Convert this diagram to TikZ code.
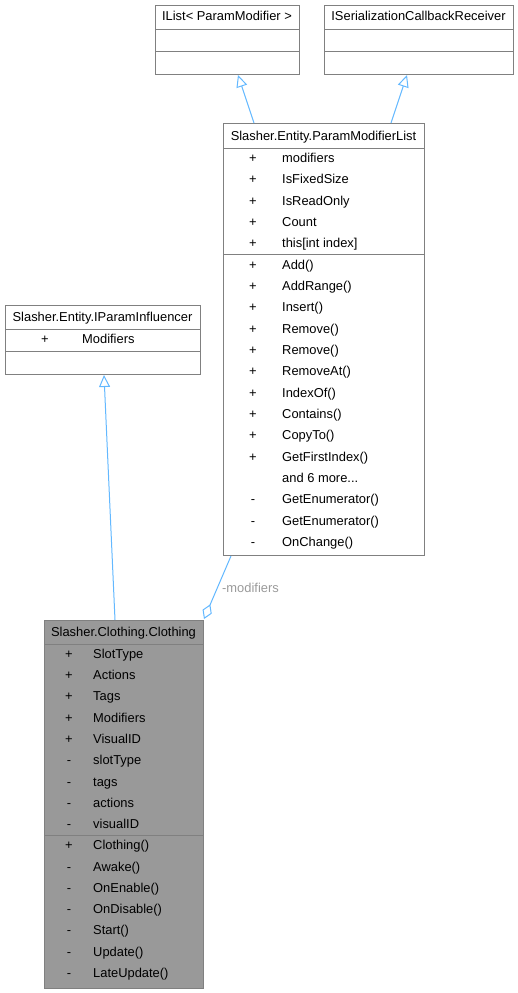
\documentclass[tikz,border=0pt]{standalone}
\usepackage{fontspec}
\setmainfont{Liberation Sans}
\usetikzlibrary{arrows.meta,calc}
\definecolor{boxline}{HTML}{808080}
\definecolor{edgeblue}{HTML}{63B8FF}
\definecolor{labelgray}{HTML}{9A9A9A}
\definecolor{boxgray}{HTML}{999999}
\newcommand{\mydots}{...}
\newcommand{\umlfont}{\fontsize{12.9}{14}\selectfont}
\tikzset{
  umlbox/.style={draw=boxline, line width=1pt, fill=white, anchor=north west, inner sep=0pt, minimum width=#1},
  umlbox/.default=100pt,
  sepline/.style={draw=boxline, line width=1pt},
  ttl/.style={inner sep=0pt, font=\umlfont, text height=9.4pt, text depth=2.6pt},
  mem/.style={inner sep=0pt, anchor=west, font=\umlfont, text height=9.4pt, text depth=2.6pt},
  vis/.style={inner sep=0pt, font=\umlfont, text height=9.4pt, text depth=2.6pt},
  inherit/.style={draw=edgeblue, line width=1pt, -{Triangle[open, length=12pt, width=11pt, fill=white]}},
  aggr/.style={draw=edgeblue, line width=1pt, {Diamond[open, length=16pt, width=10pt, fill=white]}-},
}
\begin{document}
\begin{tikzpicture}[x=1pt, y=-1pt]
\useasboundingbox (0,0) rectangle (518,993);

% IList
\node[umlbox=144pt, minimum height=69pt] (ilist) at (155,5) {};
\draw[sepline] (155,29) -- (299,29);
\draw[sepline] (155,51) -- (299,51);
\node[ttl] (ilistT) at (227,17.5) {IList< ParamModifier >};

% ISerializationCallbackReceiver
\node[umlbox=189pt, minimum height=69pt] (iser) at (324,5) {};
\draw[sepline] (324,29) -- (513,29);
\draw[sepline] (324,51) -- (513,51);
\node[ttl] (iserT) at (418.5,17.5) {ISerializationCallbackReceiver};

% ParamModifierList
\node[umlbox=201pt, minimum height=432pt] (plist) at (223,123) {};
\draw[sepline] (223,148) -- (424,148);
\draw[sepline] (223,254) -- (424,254);
\node[ttl] (plistT) at (323.5,137) {Slasher.Entity.ParamModifierList};
\foreach \v/\t [count=\i from 0] in {+/modifiers,+/IsFixedSize,+/IsReadOnly,+/Count,+/{this[int index]},+/Add(),+/AddRange(),+/Insert(),+/Remove(),+/Remove(),+/RemoveAt(),+/IndexOf(),+/Contains(),+/CopyTo(),+/GetFirstIndex(),{}/{and 6 more\mydots},-/GetEnumerator(),-/GetEnumerator(),-/OnChange()}{
  \node[vis] (pv\i) at (253,159+21.33*\i) {\v};
  \node[mem] (pm\i) at (282,159+21.33*\i) {\t};
}

% IParamInfluencer
\node[umlbox=195pt, minimum height=69pt] (infl) at (5,305) {};
\draw[sepline] (5,329) -- (200,329);
\draw[sepline] (5,351) -- (200,351);
\node[ttl] (inflT) at (102.5,318) {Slasher.Entity.IParamInfluencer};
\node[vis] (iv0) at (45,340) {+};
\node[mem] (im0) at (82,340) {Modifiers};

% Clothing
\node[umlbox=159pt, minimum height=368pt, fill=boxgray] (cloth) at (44,620) {};
\draw[sepline] (44,644) -- (203,644);
\draw[sepline] (44,835) -- (203,835);
\node[ttl] (clothT) at (123.5,633) {Slasher.Clothing.Clothing};
\foreach \v/\t [count=\i from 0] in {+/SlotType,+/Actions,+/Tags,+/Modifiers,+/VisualID,-/slotType,-/tags,-/actions,-/visualID,+/Clothing(),-/Awake(),-/OnEnable(),-/OnDisable(),-/Start(),-/Update(),-/LateUpdate()}{
  \node[vis] (cv\i) at (69,655+21.27*\i) {\v};
  \node[mem] (cm\i) at (93,655+21.27*\i) {\t};
}

% connectors
\draw[inherit] ([xshift=31pt]plist.north west) -- ([xshift=83pt]ilist.south west);
\draw[inherit] ([xshift=168pt]plist.north west) -- ([xshift=83pt]iser.south west);
\draw[inherit] ([xshift=71pt]cloth.north west) -- ([xshift=99pt]infl.south west);
\draw[aggr] ([yshift=1pt]cloth.north east) -- ([xshift=8pt]plist.south west);
\node[mem, text=labelgray] (lbl) at (222,589) {-modifiers};
\end{tikzpicture}
\end{document}
